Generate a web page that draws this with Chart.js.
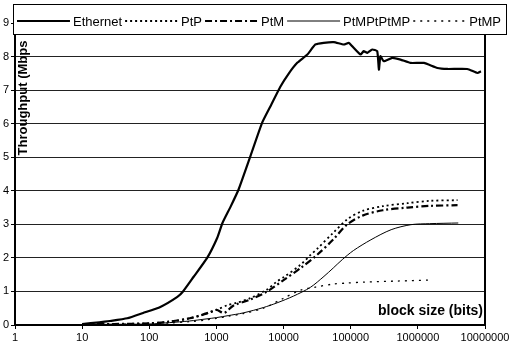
<!DOCTYPE html>
<html>
<head>
<meta charset="utf-8">
<script src="https://cdn.jsdelivr.net/npm/chart.js@4.4.0/dist/chart.umd.min.js"></script>
<style>
  body { margin: 0; background: #fff; }
  canvas { display: block; }
</style>
</head>
<body>
<canvas id="chart" width="516" height="349"></canvas>
<script>
// Throughput vs block size, log x axis
const xTickValues = [1, 10, 100, 1000, 10000, 100000, 1000000, 10000000];
const yTickValues = [0, 1, 2, 3, 4, 5, 6, 7, 8, 9];

const seriesNames = ['Ethernet', 'PtP', 'PtM', 'PtMPtPtMP', 'PtMP'];

const ethernetX = [10, 18, 26, 47, 81, 146, 262, 318, 455, 728, 1030, 1230, 1620, 2130, 3180, 4800, 6500, 8950, 12000, 16100, 22600, 29800, 39600, 56000, 79000, 93500, 105000, 140000, 156000, 177000, 209000, 248000, 263000, 277000, 311000, 416000, 552000, 780000, 1230000, 1950000, 2750000, 5450000, 7700000, 8700000];
const ethernetY = [0.03, 0.08, 0.12, 0.2, 0.36, 0.54, 0.84, 1.0, 1.43, 2.0, 2.6, 3.04, 3.52, 4.03, 5.01, 6.03, 6.55, 7.1, 7.5, 7.82, 8.06, 8.36, 8.41, 8.43, 8.36, 8.41, 8.31, 8.06, 8.16, 8.11, 8.21, 8.16, 7.61, 8.01, 7.86, 7.96, 7.91, 7.81, 7.81, 7.66, 7.63, 7.63, 7.51, 7.56];

const ptpX = [10, 30, 100, 200, 400, 700, 1000, 1500, 2000, 3200, 5700, 8000, 10000, 18000, 25000, 32000, 55000, 89000, 150000, 300000, 700000, 1500000, 3900000];
const ptpY = [0.02, 0.03, 0.05, 0.1, 0.2, 0.33, 0.45, 0.6, 0.66, 0.8, 1.06, 1.3, 1.42, 1.8, 2.08, 2.28, 2.75, 3.15, 3.4, 3.54, 3.63, 3.7, 3.72];

const ptmX = [10, 30, 100, 200, 400, 600, 800, 1000, 1300, 1800, 3200, 5700, 10000, 18000, 32000, 55000, 89000, 150000, 300000, 700000, 1500000, 3900000];
const ptmY = [0.02, 0.03, 0.05, 0.1, 0.2, 0.3, 0.38, 0.45, 0.36, 0.58, 0.76, 1.0, 1.34, 1.7, 2.1, 2.55, 3.0, 3.26, 3.42, 3.5, 3.55, 3.57];

const mixedX = [10, 30, 100, 200, 400, 700, 1000, 1500, 2500, 5000, 8000, 14000, 25000, 40000, 55000, 75000, 110000, 200000, 400000, 790000, 1500000, 4000000];
const mixedY = [0.01, 0.02, 0.03, 0.07, 0.12, 0.18, 0.22, 0.28, 0.36, 0.52, 0.66, 0.86, 1.12, 1.45, 1.7, 1.95, 2.22, 2.54, 2.84, 2.99, 3.02, 3.04];

const ptmpX = [10, 30, 100, 200, 400, 700, 1000, 1500, 2500, 5000, 10000, 18000, 30000, 55000, 89000, 160000, 500000, 1450000];
const ptmpY = [0.01, 0.02, 0.03, 0.06, 0.1, 0.15, 0.2, 0.26, 0.34, 0.5, 0.8, 1.04, 1.13, 1.22, 1.25, 1.28, 1.31, 1.34];

const yTitle = 'Throughput (Mbps';
const xTitle = 'block size (bits)';

const FONT = 'Arial, "Liberation Sans", sans-serif';

function points(xs, ys) {
    return xs.map((x, i) => ({ x: x, y: ys[i] }));
}

function makeSet(label, xs, ys, width, dash, tension) {
    return {
        label: label,
        data: points(xs, ys),
        borderColor: '#000',
        backgroundColor: '#000',
        borderWidth: width,
        borderDash: dash,
        pointRadius: 0,
        tension: tension,
        fill: false
    };
}

// legend box and the two titles sit inside the plot, drawn last
const overlay = {
    id: 'overlay',
    afterDraw(chart) {
        const ctx = chart.ctx;
        ctx.save();

        // y title, rotated
        ctx.fillStyle = '#000';
        ctx.font = 'bold 13px ' + FONT;
        ctx.textAlign = 'center';
        ctx.textBaseline = 'middle';
        ctx.translate(23, 98);
        ctx.rotate(-Math.PI / 2);
        ctx.fillText(yTitle, 0, 0);
        ctx.setTransform(1, 0, 0, 1, 0, 0);

        // x title
        ctx.font = 'bold 14px ' + FONT;
        ctx.textAlign = 'left';
        ctx.fillText(xTitle, 378, 311);

        // legend
        const left = 13, top = 4, right = 506, bottom = 34;
        ctx.fillStyle = '#fff';
        ctx.fillRect(left, top, right - left, bottom - top);
        ctx.strokeStyle = '#000';
        ctx.lineWidth = 1;
        ctx.strokeRect(left + 0.5, top + 0.5, right - left, bottom - top);

        ctx.font = '13px ' + FONT;
        const sets = chart.data.datasets;
        const widths = sets.map(d => ctx.measureText(d.label).width);
        const textTotal = widths.reduce((a, b) => a + b, 0);
        const gap = 3;
        const startX = 17, endX = 501;
        const sample = (endX - startX - textTotal - (sets.length * 2 - 1) * gap) / sets.length;
        const y = 21;
        let x = startX;
        sets.forEach((d, i) => {
            ctx.beginPath();
            ctx.setLineDash(d.borderDash || []);
            ctx.lineWidth = d.borderWidth;
            ctx.strokeStyle = d.borderColor;
            ctx.moveTo(x, y);
            ctx.lineTo(x + sample, y);
            ctx.stroke();
            ctx.setLineDash([]);
            x += sample + gap;
            ctx.fillStyle = '#000';
            ctx.textBaseline = 'middle';
            ctx.fillText(d.label, x, y + 1);
            x += widths[i] + gap;
        });

        ctx.restore();
    }
};

function createChart() {
    const ctx = document.getElementById('chart').getContext('2d');
    new Chart(ctx, {
        type: 'line',
        data: {
            datasets: [
                makeSet(seriesNames[0], ethernetX, ethernetY, 2.2, [], 0.15),
                makeSet(seriesNames[1], ptpX, ptpY, 1.8, [2, 3], 0.3),
                makeSet(seriesNames[2], ptmX, ptmY, 2.2, [7, 3, 2, 3], 0.3),
                makeSet(seriesNames[3], mixedX, mixedY, 1, [], 0.3),
                makeSet(seriesNames[4], ptmpX, ptmpY, 1.3, [2, 5], 0.3)
            ]
        },
        options: {
            responsive: false,
            animation: false,
            layout: { padding: { top: 23, right: 31, bottom: 0, left: 0 } },
            plugins: {
                legend: { display: false },
                tooltip: { enabled: false }
            },
            scales: {
                x: {
                    type: 'logarithmic',
                    min: xTickValues[0],
                    max: xTickValues[xTickValues.length - 1],
                    afterBuildTicks: s => { s.ticks = xTickValues.map(v => ({ value: v })); },
                    afterFit: s => { s.height = 24; },
                    ticks: {
                        callback: v => String(v),
                        autoSkip: false,
                        maxRotation: 0,
                        padding: 2,
                        color: '#000',
                        font: { family: FONT, size: 11 }
                    },
                    grid: { drawOnChartArea: false, drawTicks: true, tickLength: 4, color: '#000' },
                    border: { color: '#000', width: 2 }
                },
                y: {
                    min: 0,
                    max: 9,
                    afterBuildTicks: s => { s.ticks = yTickValues.map(v => ({ value: v })); },
                    afterFit: s => { s.width = 15; },
                    ticks: {
                        padding: 2,
                        color: '#000',
                        font: { family: FONT, size: 11 }
                    },
                    grid: { color: '#222', lineWidth: 1, tickLength: 4, tickColor: '#000' },
                    border: { color: '#000', width: 2 }
                },
                y2: {
                    position: 'right',
                    afterFit: s => { s.width = 0; },
                    ticks: { display: false },
                    grid: { drawOnChartArea: false, drawTicks: false },
                    border: { color: '#000', width: 2 }
                }
            }
        },
        plugins: [overlay]
    });
}

document.addEventListener('DOMContentLoaded', createChart);
</script>
</body>
</html>
